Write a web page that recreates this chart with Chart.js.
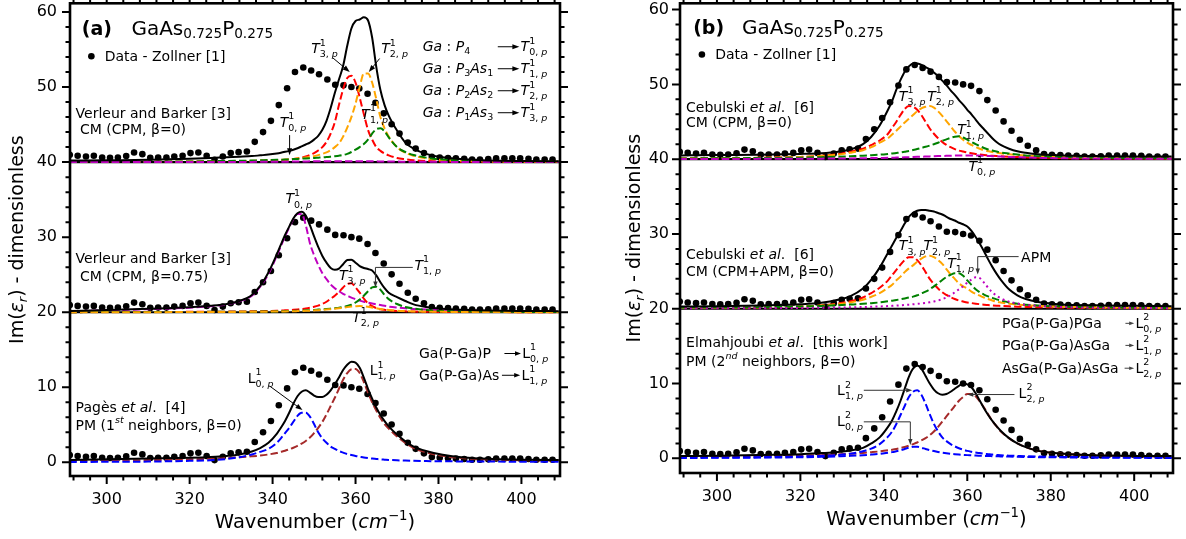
<!DOCTYPE html>
<html>
<head>
<meta charset="utf-8">
<title>GaAs0.725P0.275 - Im(eps) fits</title>
<script src="https://cdn.jsdelivr.net/npm/chart.js@4.4.1/dist/chart.umd.min.js"></script>
<style>
  html, body { margin: 0; padding: 0; background: #fff; }
  body { width: 1186px; height: 539px; position: relative; overflow: hidden; }
  canvas { position: absolute; top: 0; }
</style>
</head>
<body>
<canvas id="panelA"></canvas>
<canvas id="panelB"></canvas>
<script>
// Zollner data (relative to each baseline), drawn three times per panel
const DATA_X = [291.1, 293.0, 295.0, 296.9, 298.9, 300.8, 302.7, 304.7, 306.6, 308.6,
  310.5, 312.4, 314.4, 316.3, 318.3, 320.2, 322.1, 324.1, 326.0, 328.0,
  329.9, 331.8, 333.8, 335.7, 337.7, 339.6, 341.5, 343.5, 345.4, 347.4,
  349.3, 351.2, 353.2, 355.1, 357.1, 359.0, 360.9, 362.9, 364.8, 366.8,
  368.7, 370.6, 372.6, 374.5, 376.5, 378.4, 380.3, 382.3, 384.2, 386.2,
  388.1, 390.0, 392.0, 393.9, 395.9, 397.8, 399.7, 401.7, 403.6, 405.6, 407.5];
const DATA_Y = [0.97, 0.84, 0.75, 0.84, 0.62, 0.58, 0.62, 0.8, 1.28, 1.06,
  0.58, 0.62, 0.62, 0.75, 0.84, 1.2, 1.28, 0.84, 0.3, 0.75,
  1.2, 1.33, 1.41, 2.7, 4.0, 5.5, 7.6, 9.85, 12.0, 12.6,
  12.2, 11.7, 11.0, 10.3, 10.25, 10.0, 9.8, 9.1, 7.9, 6.5,
  5.05, 3.8, 2.6, 1.8, 1.2, 0.7, 0.6, 0.55, 0.5, 0.45,
  0.35, 0.35, 0.4, 0.5, 0.5, 0.5, 0.5, 0.45, 0.35, 0.35, 0.35];

// wavenumbers where the fitted curves were read
const FIT_X = [291, 300, 310, 320, 325, 329, 332, 335, 337, 339,
  341, 342, 343, 344, 345, 346, 347, 348, 349, 350,
  351, 352, 353, 354, 355, 356, 357, 358, 359, 360,
  361, 362, 363, 364, 365, 366, 367, 368,
  370, 372, 374, 377, 381, 386, 393, 401, 409];

// (a) top - Verleur & Barker, CM beta=0
const A1_CM = [0.2, 0.25, 0.3, 0.45, 0.55, 0.65, 0.72, 0.8, 0.9, 1.0,
  1.15, 1.25, 1.37, 1.5, 1.65, 1.85, 2.1, 2.35, 2.6, 3.0,
  3.5, 4.3, 5.5, 7.2, 9.2, 11.0, 12.8, 15.5, 17.8, 18.8,
  19.0, 19.3, 18.9, 16.6, 12.7, 9.6, 7.6, 6.2,
  4.2, 2.6, 1.8, 1.1, 0.65, 0.38, 0.22, 0.15, 0.1];
const A1_T0 = [0, 0, 0.01, 0.01, 0.02, 0.02, 0.03, 0.03, 0.04, 0.04,
  0.05, 0.05, 0.06, 0.06, 0.07, 0.08, 0.08, 0.09, 0.1, 0.1,
  0.1, 0.1, 0.1, 0.1, 0.1, 0.1, 0.1, 0.1, 0.1, 0.1,
  0.1, 0.1, 0.1, 0.1, 0.1, 0.09, 0.09, 0.08,
  0.07, 0.06, 0.05, 0.04, 0.03, 0.02, 0.01, 0.01, 0];
const A1_T1 = [0.03, 0.04, 0.06, 0.09, 0.12, 0.15, 0.18, 0.21, 0.24, 0.27,
  0.3, 0.32, 0.34, 0.37, 0.4, 0.43, 0.46, 0.49, 0.52, 0.55,
  0.59, 0.63, 0.68, 0.73, 0.79, 0.86, 0.95, 1.1, 1.35, 1.65,
  2.0, 2.4, 3.0, 3.8, 4.4, 4.5, 4.1, 3.3,
  2.0, 1.35, 0.95, 0.6, 0.35, 0.2, 0.12, 0.08, 0.05];
const A1_T2 = [0.02, 0.03, 0.04, 0.07, 0.09, 0.12, 0.14, 0.17, 0.2, 0.23,
  0.27, 0.3, 0.33, 0.36, 0.42, 0.5, 0.55, 0.62, 0.7, 0.8,
  0.93, 1.1, 1.3, 1.6, 2.0, 2.5, 3.4, 4.6, 6.0, 7.8,
  10.0, 11.8, 11.8, 10.6, 8.4, 6.0, 4.5, 3.4,
  2.0, 1.25, 0.85, 0.5, 0.28, 0.16, 0.09, 0.06, 0.04];
const A1_T3 = [0.02, 0.03, 0.04, 0.06, 0.08, 0.1, 0.12, 0.15, 0.18, 0.2,
  0.25, 0.28, 0.3, 0.35, 0.42, 0.5, 0.6, 0.75, 0.95, 1.2,
  1.55, 2.0, 2.7, 3.8, 5.3, 7.6, 9.7, 11.2, 11.5, 10.6,
  8.6, 6.4, 4.3, 3.0, 2.0, 1.5, 1.15, 0.9,
  0.55, 0.38, 0.25, 0.16, 0.1, 0.06, 0.04, 0.03, 0.02];

// (a) middle - Verleur & Barker, CM beta=0.75
const A2_CM = [0.15, 0.3, 0.45, 0.65, 0.85, 1.1, 1.5, 2.3, 3.5, 5.3,
  7.7, 9.0, 10.3, 11.4, 12.5, 13.2, 13.4, 12.9, 11.6, 10.1,
  8.7, 7.5, 6.6, 5.9, 5.65, 5.8, 6.4, 6.95, 7.0, 6.6,
  6.15, 5.9, 5.75, 5.55, 4.9, 4.0, 3.2, 2.6,
  2.0, 1.5, 1.05, 0.7, 0.45, 0.32, 0.22, 0.17, 0.14];
const A2_T0 = [0.12, 0.25, 0.4, 0.6, 0.8, 1.05, 1.45, 2.2, 3.4, 5.1,
  7.5, 8.8, 10.1, 11.3, 12.4, 13.1, 13.1, 11.6, 9.2, 7.6,
  6.3, 5.2, 4.4, 3.7, 3.2, 2.8, 2.45, 2.2, 1.95, 1.75,
  1.55, 1.4, 1.28, 1.15, 1.05, 0.95, 0.85, 0.75,
  0.62, 0.52, 0.44, 0.36, 0.28, 0.22, 0.16, 0.12, 0.1];
const A2_T1 = [0.01, 0.02, 0.03, 0.04, 0.05, 0.06, 0.07, 0.08, 0.09, 0.1,
  0.12, 0.13, 0.14, 0.16, 0.18, 0.2, 0.22, 0.25, 0.28, 0.31,
  0.35, 0.39, 0.43, 0.48, 0.54, 0.6, 0.7, 0.82, 1.0, 1.3,
  1.7, 2.2, 2.8, 3.3, 3.4, 3.0, 2.3, 1.75,
  1.1, 0.7, 0.5, 0.3, 0.18, 0.11, 0.07, 0.04, 0.03];
const A2_T2 = [0, 0.01, 0.01, 0.02, 0.03, 0.04, 0.05, 0.06, 0.07, 0.08,
  0.09, 0.1, 0.11, 0.12, 0.13, 0.15, 0.17, 0.19, 0.21, 0.24,
  0.27, 0.31, 0.35, 0.4, 0.45, 0.52, 0.6, 0.68, 0.75, 0.8,
  0.83, 0.8, 0.72, 0.62, 0.52, 0.43, 0.36, 0.3,
  0.21, 0.15, 0.11, 0.07, 0.05, 0.03, 0.02, 0.01, 0.01];
const A2_T3 = [0.01, 0.02, 0.03, 0.05, 0.06, 0.08, 0.1, 0.12, 0.14, 0.17,
  0.2, 0.22, 0.25, 0.28, 0.32, 0.37, 0.43, 0.5, 0.6, 0.72,
  0.88, 1.1, 1.4, 1.8, 2.2, 2.7, 3.3, 3.75, 3.85, 3.3,
  2.6, 1.8, 1.2, 0.8, 0.55, 0.4, 0.32, 0.25,
  0.17, 0.12, 0.09, 0.06, 0.04, 0.03, 0.02, 0.01, 0.01];

// (a) bottom - Pages et al., PM 1st neighbours
const A3_PM = [0.3, 0.4, 0.5, 0.6, 0.7, 0.85, 1.05, 1.45, 1.9, 2.6,
  3.8, 4.6, 5.5, 6.6, 7.8, 8.8, 9.4, 9.6, 9.3, 8.9,
  8.7, 8.7, 9.0, 9.6, 10.4, 11.3, 12.3, 13.0, 13.4, 13.3,
  12.6, 11.3, 9.8, 8.5, 7.3, 6.3, 5.5, 4.8,
  3.7, 2.8, 2.1, 1.5, 1.0, 0.65, 0.45, 0.35, 0.3];
const A3_L0 = [0.05, 0.07, 0.1, 0.2, 0.28, 0.45, 0.68, 1.05, 1.4, 1.8,
  2.6, 3.2, 3.9, 4.6, 5.4, 6.2, 6.6, 6.6, 6.1, 5.1,
  4.0, 3.2, 2.6, 2.1, 1.8, 1.5, 1.3, 1.1, 0.97, 0.85,
  0.75, 0.65, 0.57, 0.5, 0.45, 0.4, 0.36, 0.32,
  0.27, 0.23, 0.2, 0.17, 0.14, 0.12, 0.1, 0.08, 0.07];
const A3_L1 = [0.2, 0.25, 0.3, 0.4, 0.48, 0.58, 0.68, 0.8, 0.9, 1.05,
  1.25, 1.4, 1.55, 1.75, 1.95, 2.2, 2.5, 2.85, 3.3, 3.9,
  4.6, 5.4, 6.4, 7.5, 8.6, 9.8, 11.0, 11.9, 12.4, 12.45,
  11.9, 10.7, 9.3, 8.0, 6.9, 5.9, 5.1, 4.5,
  3.45, 2.6, 1.9, 1.35, 0.87, 0.55, 0.36, 0.27, 0.23];

// (b) top - Cebulski et al., CM beta=0
const B1_CM = [0.5, 0.55, 0.6, 0.7, 0.8, 1.0, 1.3, 2.0, 3.0, 4.5,
  6.6, 7.8, 9.3, 10.6, 11.7, 12.4, 12.8, 12.8, 12.6, 12.3,
  12.0, 11.6, 11.1, 10.5, 9.9, 9.2, 8.6, 7.9, 7.3, 6.6,
  6.0, 5.3, 4.6, 4.0, 3.4, 2.8, 2.3, 1.9,
  1.4, 1.05, 0.85, 0.65, 0.55, 0.45, 0.4, 0.37, 0.35];
const B1_T0 = [0.02, 0.03, 0.04, 0.05, 0.07, 0.09, 0.1, 0.12, 0.14, 0.16,
  0.18, 0.2, 0.21, 0.23, 0.25, 0.27, 0.29, 0.31, 0.33, 0.35,
  0.37, 0.39, 0.41, 0.43, 0.45, 0.47, 0.48, 0.49, 0.5, 0.5,
  0.5, 0.49, 0.47, 0.45, 0.43, 0.4, 0.38, 0.35,
  0.3, 0.26, 0.22, 0.18, 0.13, 0.1, 0.07, 0.05, 0.04];
const B1_T1 = [0.1, 0.12, 0.15, 0.2, 0.27, 0.33, 0.4, 0.47, 0.54, 0.6,
  0.7, 0.76, 0.83, 0.9, 1.0, 1.1, 1.22, 1.35, 1.5, 1.65,
  1.82, 2.0, 2.2, 2.45, 2.65, 2.85, 3.0, 3.05, 2.9, 2.6,
  2.3, 2.0, 1.75, 1.5, 1.3, 1.15, 1.02, 0.9,
  0.75, 0.62, 0.5, 0.4, 0.32, 0.24, 0.18, 0.13, 0.1];
const B1_T2 = [0.1, 0.13, 0.18, 0.3, 0.42, 0.6, 0.85, 1.2, 1.6, 2.2,
  2.8, 3.3, 3.8, 4.35, 4.9, 5.4, 5.9, 6.4, 6.8, 7.0,
  7.1, 6.9, 6.4, 5.8, 5.1, 4.4, 3.7, 3.1, 2.6, 2.2,
  1.9, 1.6, 1.4, 1.2, 1.07, 0.95, 0.86, 0.78,
  0.65, 0.55, 0.47, 0.38, 0.3, 0.23, 0.17, 0.13, 0.1];
const B1_T3 = [0.1, 0.13, 0.18, 0.3, 0.45, 0.7, 1.0, 1.4, 1.9, 2.5,
  3.4, 4.2, 5.0, 5.9, 6.7, 7.1, 7.0, 6.6, 5.9, 5.0,
  4.1, 3.4, 2.8, 2.3, 1.9, 1.6, 1.35, 1.15, 1.02, 0.9,
  0.8, 0.7, 0.62, 0.55, 0.5, 0.45, 0.41, 0.38,
  0.32, 0.28, 0.25, 0.21, 0.17, 0.13, 0.1, 0.08, 0.06];

// (b) middle - Cebulski et al., CM with APM
const B2_CM = [0.3, 0.35, 0.45, 0.6, 0.8, 1.2, 1.7, 2.7, 3.9, 5.5,
  7.5, 8.5, 9.5, 10.4, 11.4, 12.3, 12.8, 13.1, 13.2, 13.2,
  13.1, 13.0, 12.8, 12.6, 12.3, 12.0, 11.8, 11.5, 11.3, 11.0,
  10.4, 9.6, 8.7, 7.7, 6.6, 5.6, 4.7, 3.9,
  2.6, 1.8, 1.3, 0.9, 0.65, 0.5, 0.45, 0.4, 0.35];
const B2_T1 = [0.15, 0.17, 0.2, 0.3, 0.38, 0.47, 0.56, 0.66, 0.75, 0.85,
  1.0, 1.08, 1.17, 1.27, 1.38, 1.5, 1.62, 1.8, 2.05, 2.3,
  2.6, 3.0, 3.4, 3.85, 4.25, 4.55, 4.75, 4.75, 4.4, 3.8,
  3.2, 2.6, 2.2, 1.9, 1.65, 1.45, 1.25, 1.1,
  0.85, 0.68, 0.55, 0.42, 0.32, 0.24, 0.18, 0.13, 0.1];
const B2_T2 = [0.1, 0.13, 0.18, 0.3, 0.42, 0.6, 0.85, 1.2, 1.6, 2.1,
  2.8, 3.2, 3.8, 4.3, 4.9, 5.4, 5.8, 6.3, 6.7, 7.0,
  7.1, 6.9, 6.5, 6.0, 5.3, 4.6, 4.0, 3.4, 3.0, 2.7,
  2.3, 2.0, 1.75, 1.5, 1.3, 1.1, 0.95, 0.85,
  0.68, 0.56, 0.47, 0.38, 0.3, 0.23, 0.17, 0.13, 0.1];
const B2_T3 = [0.1, 0.13, 0.18, 0.3, 0.45, 0.7, 1.0, 1.5, 2.1, 2.8,
  3.8, 4.5, 5.2, 5.9, 6.5, 6.9, 6.9, 6.5, 5.8, 4.9,
  4.0, 3.3, 2.7, 2.2, 1.85, 1.55, 1.3, 1.1, 0.97, 0.85,
  0.76, 0.68, 0.61, 0.55, 0.5, 0.45, 0.41, 0.38,
  0.32, 0.28, 0.25, 0.21, 0.17, 0.13, 0.1, 0.08, 0.06];
const B2_APM = [0.05, 0.06, 0.08, 0.1, 0.13, 0.16, 0.19, 0.23, 0.27, 0.31,
  0.36, 0.39, 0.42, 0.46, 0.5, 0.55, 0.6, 0.65, 0.71, 0.78,
  0.87, 0.98, 1.1, 1.28, 1.5, 1.8, 2.2, 2.6, 3.0, 3.5,
  3.9, 4.2, 4.1, 3.5, 2.8, 2.2, 1.75, 1.4,
  0.95, 0.7, 0.52, 0.38, 0.27, 0.19, 0.13, 0.1, 0.08];

// (b) bottom - Elmahjoubi et al., PM 2nd neighbours
const B3_PM = [0.3, 0.35, 0.45, 0.55, 0.7, 0.85, 1.05, 1.4, 2.0, 2.8,
  4.2, 5.1, 6.3, 7.7, 9.3, 10.9, 12.0, 12.4, 12.0, 11.0,
  10.0, 9.2, 8.7, 8.5, 8.6, 8.9, 9.3, 9.7, 10.0, 9.9,
  9.5, 8.7, 7.7, 6.7, 5.8, 5.0, 4.3, 3.7,
  2.7, 2.0, 1.5, 1.0, 0.7, 0.5, 0.38, 0.32, 0.3];
const B3_L0 = [0.05, 0.07, 0.1, 0.15, 0.2, 0.27, 0.33, 0.42, 0.5, 0.6,
  0.75, 0.83, 0.95, 1.08, 1.25, 1.42, 1.55, 1.55, 1.42, 1.25,
  1.1, 0.97, 0.86, 0.77, 0.69, 0.62, 0.56, 0.51, 0.47, 0.43,
  0.4, 0.37, 0.35, 0.33, 0.31, 0.29, 0.27, 0.26,
  0.23, 0.21, 0.19, 0.16, 0.14, 0.11, 0.09, 0.07, 0.06];
const B3_L1 = [0.1, 0.12, 0.15, 0.25, 0.33, 0.45, 0.63, 0.95, 1.3, 1.9,
  2.9, 3.6, 4.6, 5.8, 7.0, 8.2, 8.9, 9.1, 8.5, 7.3,
  5.9, 4.6, 3.6, 2.8, 2.3, 1.9, 1.6, 1.35, 1.17, 1.0,
  0.88, 0.78, 0.7, 0.62, 0.56, 0.5, 0.46, 0.42,
  0.36, 0.32, 0.28, 0.24, 0.2, 0.17, 0.14, 0.12, 0.1];
const B3_L2 = [0.15, 0.18, 0.25, 0.35, 0.43, 0.52, 0.6, 0.72, 0.82, 0.93,
  1.07, 1.15, 1.25, 1.38, 1.52, 1.7, 1.9, 2.12, 2.4, 2.7,
  3.1, 3.6, 4.2, 4.9, 5.6, 6.3, 7.0, 7.7, 8.2, 8.6,
  8.6, 8.3, 7.6, 6.8, 5.9, 5.0, 4.3, 3.6,
  2.7, 2.0, 1.5, 1.0, 0.7, 0.5, 0.35, 0.28, 0.24];

const X_TICKS = [300, 320, 340, 360, 380, 400];
const Y_TICKS = [0, 10, 20, 30, 40, 50, 60];
const OFFSETS = [40, 20, 0];   // vertical shift of the three stacked fits
const X_MIN = 291.15, X_MAX = 409.3;

const FONT = '"DejaVu Sans"';
const COL = { t0: '#bf00bf', t1: '#008000', t2: '#ffa500', t3: '#ff0000', blue: '#0000ff', brown: '#a52a2a' };
const DASH = [7.4, 3.2], DOT = [2, 3.3];

function dots(off) {
  return {
    data: DATA_X.map((x, i) => ({ x, y: DATA_Y[i] + off })),
    showLine: false, pointRadius: 3.3, pointHoverRadius: 3.3,
    pointBackgroundColor: '#000', pointBorderWidth: 0, order: 3
  };
}

function curve(ys, off, color, dash) {
  return {
    data: FIT_X.map((x, i) => ({ x, y: ys[i] + off })),
    borderColor: color, borderWidth: 2, borderDash: dash || [],
    pointRadius: 0, pointHoverRadius: 0, fill: false,
    cubicInterpolationMode: 'monotone', order: dash ? 2 : 1
  };
}

const [o1, o2, o3] = OFFSETS;
const dsA = [
  dots(o1), dots(o2), dots(o3),
  curve(A1_T0, o1, COL.t0, DASH), curve(A1_T1, o1, COL.t1, DASH), curve(A1_T2, o1, COL.t2, DASH),
  curve(A1_T3, o1, COL.t3, DASH), curve(A1_CM, o1, '#000'),
  curve(A2_T2, o2, COL.t2, DASH), curve(A2_T1, o2, COL.t1, DASH), curve(A2_T3, o2, COL.t3, DASH),
  curve(A2_T0, o2, COL.t0, DASH), curve(A2_CM, o2, '#000'),
  curve(A3_L0, o3, COL.blue, DASH), curve(A3_L1, o3, COL.brown, DASH), curve(A3_PM, o3, '#000')
];
const dsB = [
  dots(o1), dots(o2), dots(o3),
  curve(B1_T0, o1, COL.t0, DASH), curve(B1_T1, o1, COL.t1, DASH), curve(B1_T2, o1, COL.t2, DASH),
  curve(B1_T3, o1, COL.t3, DASH), curve(B1_CM, o1, '#000'),
  curve(B2_APM, o2, COL.t0, DOT), curve(B2_T1, o2, COL.t1, DASH), curve(B2_T2, o2, COL.t2, DASH),
  curve(B2_T3, o2, COL.t3, DASH), curve(B2_CM, o2, '#000'),
  curve(B3_L0, o3, COL.blue, DASH), curve(B3_L1, o3, COL.blue, DASH), curve(B3_L2, o3, COL.brown, DASH),
  curve(B3_PM, o3, '#000')
];

// ---- rich text: tokens [text, flags, dy(em)]; flags i=italic b=bold s=small k=stack start e=stack end
function rich(ctx, x, y, toks, size, align) {
  const pass = (draw, x0) => {
    let cx = x0, st = 0, sw = 0;
    for (const [t, f = '', dy = 0] of toks) {
      const fs = f.includes('s') ? size * 0.68 : size;
      ctx.font = (f.includes('i') ? 'italic ' : '') + (f.includes('b') ? 'bold ' : '') + fs + 'px ' + FONT;
      const w = ctx.measureText(t).width;
      if (draw) ctx.fillText(t, cx, y + dy * size);
      if (f.includes('k')) { st = cx; sw = w; continue; }
      cx += w;
      if (f.includes('e')) cx = Math.max(cx, st + sw);
    }
    return cx - x0;
  };
  ctx.textBaseline = 'alphabetic';
  ctx.textAlign = 'left';
  const w = pass(false, x);
  pass(true, align === 'center' ? x - w / 2 : x);
}

function arrow(ctx, pts, head, color) {
  const [x1, y1] = pts[pts.length - 2], [x2, y2] = pts[pts.length - 1];
  const ang = Math.atan2(y2 - y1, x2 - x1), c = Math.cos(ang), s = Math.sin(ang);
  ctx.strokeStyle = color; ctx.fillStyle = color; ctx.lineWidth = 1;
  ctx.beginPath();
  ctx.moveTo(pts[0][0], pts[0][1]);
  for (let i = 1; i < pts.length - 1; i++) ctx.lineTo(pts[i][0], pts[i][1]);
  ctx.lineTo(x2 - c * head * 0.8, y2 - s * head * 0.8);
  ctx.stroke();
  ctx.beginPath();
  ctx.moveTo(x2, y2);
  ctx.lineTo(x2 - c * head - s * head * 0.36, y2 - s * head + c * head * 0.36);
  ctx.lineTo(x2 - c * head + s * head * 0.36, y2 - s * head - c * head * 0.36);
  ctx.closePath();
  ctx.fill();
  ctx.fillStyle = '#000'; ctx.strokeStyle = '#000';
}

const T = n => [['T', 'i'], ['1', 'sk', -0.55], [n + ', ', 's', 0.3], ['p', 'sie', 0.3]];
const L = (n, k) => [['L'], [k, 'sk', -0.55], [n + ', ', 's', 0.3], ['p', 'sie', 0.3]];
const GAASP = [['GaAs'], ['0.725', 's', 0.14], ['P'], ['0.275', 's', 0.14]];
const X_TITLE = [['Wavenumber ('], ['cm', 'i'], ['\u22121', 's', -0.42], [')']];
const Y_TITLE = [['Im('], ['\u03b5', 'i'], ['r', 'si', 0.22], [') - dimensionless']];
const GA = (a, b, c) => {
  const t = [['Ga', 'i'], [' : '], ['P', 'i'], [a, 's', 0.2]];
  if (c) t.push(['As', 'i'], [c, 's', 0.2]);
  return t;
};
const row = (tx, ty, left, a0, a1, right, head, color) => [
  ['t', tx, ty, left, 14],
  ['a', [[a0, ty + 0.6], [a1, ty + 0.6]], head, color],
  ['t', a1 + 0.3, ty, right, 14]
];

const NOTES_A = [
  ['t', 294.0, 56.9, [['(a)', 'b']], 19],
  ['t', 305.95, 56.9, GAASP, 20],
  ['d', 296.3, 54.1],
  ['t', 299.5, 53.45, [['Data - Zollner [1]']], 14],
  ['t', 292.5, 45.9, [['Verleur and Barker [3]']], 14],
  ['t', 292.5, 43.75, [[' CM (CPM, \u03b2=0)']], 14],
  ['t', 341.7, 44.7, T('0'), 14], ['a', [[344.1, 43.6], [344.1, 40.9]], 7, '#000'],
  ['t', 349.3, 54.5, T('3'), 14], ['a', [[354.5, 53.9], [358.6, 52.0]], 7, '#000'],
  ['t', 366.2, 54.5, T('2'), 14], ['a', [[365.8, 53.8], [363.2, 52.0]], 7, '#000'],
  ['t', 361.4, 45.8, T('1'), 14],
  ...row(376.2, 54.77, GA('4'), 394.3, 399.5, T('0'), 7, '#000'),
  ...row(376.2, 51.84, GA('3', 0, '1'), 394.3, 399.5, T('1'), 7, '#000'),
  ...row(376.2, 48.91, GA('2', 0, '2'), 394.3, 399.5, T('2'), 7, '#000'),
  ...row(376.2, 45.98, GA('1', 0, '3'), 394.3, 399.5, T('3'), 7, '#000'),

  ['t', 292.5, 26.5, [['Verleur and Barker [3]']], 14],
  ['t', 292.5, 24.2, [[' CM (CPM, \u03b2=0.75)']], 14],
  ['t', 343.1, 34.5, T('0'), 14],
  ['t', 356.0, 24.3, T('3'), 14],
  ['t', 374.2, 25.6, T('1'), 14], ['a', [[373.8, 25.97], [364.8, 25.97], [364.8, 23.3]], 6, '#333'],
  ['t', 359.2, 18.7, T('2'), 14],

  ['t', 292.5, 6.7, [['Pag\u00e8s '], ['et al', 'i'], ['.  [4]']], 14],
  ['t', 292.5, 4.34, [['PM (1'], ['st', 'si', -0.45], [' neighbors, \u03b2=0)']], 14],
  ['t', 334.0, 10.6, L('0', '1'), 14], ['a', [[339.3, 10.16], [347.2, 6.96]], 7, '#000'],
  ['t', 363.4, 11.6, L('1', '1'), 14],
  ...row(375.3, 13.9, [['Ga(P-Ga)P']], 395.9, 399.9, L('0', '1'), 6, '#000'),
  ...row(375.3, 11.0, [['Ga(P-Ga)As']], 395.3, 399.7, L('1', '1'), 6, '#000')
];

const NOTES_B = [
  ['t', 294.3, 56.7, [['(b)', 'b']], 19],
  ['t', 306.0, 56.7, GAASP, 20],
  ['d', 296.4, 54.0],
  ['t', 299.6, 53.4, [['Data - Zollner [1]']], 14],
  ['t', 292.6, 46.35, [['Cebulski '], ['et al', 'i'], ['.  [6]']], 14],
  ['t', 292.6, 44.25, [['CM (CPM, \u03b2=0)']], 14],
  ['t', 343.6, 47.8, T('3'), 14],
  ['t', 350.4, 47.8, T('2'), 14],
  ['t', 357.6, 43.3, T('1'), 14],
  ['t', 360.3, 38.4, T('0'), 14],

  ['t', 292.6, 26.6, [['Cebulski '], ['et al', 'i'], ['.  [6]']], 14],
  ['t', 292.6, 24.4, [['CM (CPM+APM, \u03b2=0)']], 14],
  ['t', 343.6, 27.8, T('3'), 14],
  ['t', 349.5, 27.8, T('2'), 14],
  ['t', 355.2, 25.5, T('1'), 14],
  ['t', 372.9, 26.3, [['APM']], 14], ['a', [[372.3, 26.97], [362.5, 26.97], [362.5, 24.57]], 6, '#333'],

  ['t', 292.6, 14.9, [['Elmahjoubi '], ['et al', 'i'], ['.  [this work]']], 14],
  ['t', 292.6, 12.4, [['PM (2'], ['nd', 'si', -0.45], [' neighbors, \u03b2=0)']], 14],
  ['t', 328.8, 8.44, L('1', '2'), 14], ['a', [[335.2, 9.1], [346.8, 9.1]], 6, '#333'],
  ['t', 328.8, 4.3, L('0', '2'), 14], ['a', [[335.2, 4.88], [346.35, 4.88], [346.35, 1.77]], 6, '#333'],
  ['t', 372.3, 8.1, L('2', '2'), 14], ['a', [[371.3, 8.53], [360.0, 8.53]], 6, '#333'],
  ...row(368.3, 17.45, [['PGa(P-Ga)PGa']], 397.9, 400.0, L('0', '2'), 5, '#444'),
  ...row(368.3, 14.5, [['PGa(P-Ga)AsGa']], 397.9, 400.0, L('1', '2'), 5, '#444'),
  ...row(368.3, 11.45, [['AsGa(P-Ga)AsGa']], 397.7, 400.0, L('2', '2'), 5, '#444')
];

function framePlugin(notes, titleGap) {
  return {
    id: 'frame',
    beforeDatasetsDraw(chart) {
      const { ctx, chartArea: a, scales: { y } } = chart;
      ctx.save();
      ctx.strokeStyle = '#000';
      ctx.lineWidth = 2.2;
      OFFSETS.filter(o => o > 0).forEach(o => {
        const py = y.getPixelForValue(o);
        ctx.beginPath(); ctx.moveTo(a.left, py); ctx.lineTo(a.right, py); ctx.stroke();
      });
      ctx.restore();
    },
    afterDraw(chart) {
      const { ctx, chartArea: a, scales: { x, y } } = chart;
      ctx.save();
      ctx.strokeStyle = '#000';
      ctx.lineWidth = 2;
      ctx.beginPath();
      for (let v = Math.ceil(X_MIN / 4) * 4; v <= X_MAX; v += 4) {
        const px = x.getPixelForValue(v), len = v % 20 ? 4.5 : 8;
        ctx.moveTo(px, a.bottom); ctx.lineTo(px, a.bottom + len);
        ctx.moveTo(px, a.top); ctx.lineTo(px, a.top - len);
      }
      for (let v = 0; v <= y.max; v += 2) {
        const py = y.getPixelForValue(v), len = v % 10 ? 4.5 : 8;
        ctx.moveTo(a.left, py); ctx.lineTo(a.left - len, py);
        ctx.moveTo(a.right, py); ctx.lineTo(a.right + len, py);
      }
      ctx.stroke();
      ctx.lineWidth = 2.6;
      ctx.strokeRect(a.left, a.top, a.right - a.left, a.bottom - a.top);

      ctx.fillStyle = '#000';
      rich(ctx, (a.left + a.right) / 2, a.bottom + 52, X_TITLE, 19.5, 'center');
      ctx.save();
      ctx.translate(a.left - titleGap, (a.top + a.bottom) / 2);
      ctx.rotate(-Math.PI / 2);
      rich(ctx, 0, 0, Y_TITLE, 19, 'center');
      ctx.restore();

      const P = (vx, vy) => [x.getPixelForValue(vx), y.getPixelForValue(vy)];
      for (const n of notes) {
        if (n[0] === 't') {
          const [px, py] = P(n[1], n[2]);
          rich(ctx, px, py, n[3], n[4]);
        } else if (n[0] === 'd') {
          const [px, py] = P(n[1], n[2]);
          ctx.beginPath(); ctx.arc(px, py, 3.3, 0, Math.PI * 2); ctx.fill();
        } else if (n[0] === 'a') {
          arrow(ctx, n[1].map(p => P(p[0], p[1])), n[2], n[3]);
        }
      }
      ctx.restore();
    }
  };
}

function makeChart(id, p, datasets, notes) {
  const cv = document.getElementById(id);
  cv.width = p.width;
  cv.height = 539;
  cv.style.left = p.left + 'px';
  const tickFont = { family: 'DejaVu Sans', size: 16 };
  return new Chart(cv, {
    type: 'line',
    data: { datasets },
    options: {
      responsive: false,
      animation: false,
      devicePixelRatio: 1,
      layout: { padding: { left: 0, top: p.top, right: p.width - p.right, bottom: 0 } },
      plugins: { legend: { display: false }, tooltip: { enabled: false } },
      scales: {
        x: {
          type: 'linear', min: X_MIN, max: X_MAX,
          afterBuildTicks: s => { s.ticks = X_TICKS.map(value => ({ value })); },
          ticks: { font: tickFont, color: '#000', padding: 14, maxRotation: 0, autoSkip: false },
          grid: { display: false, drawTicks: false },
          border: { display: false },
          afterFit: s => { s.height = 539 - p.bottom; s.paddingLeft = 0; s.paddingRight = 0; }
        },
        y: {
          type: 'linear', min: p.yMin, max: p.yMax,
          afterBuildTicks: s => { s.ticks = Y_TICKS.map(value => ({ value })); },
          ticks: { font: tickFont, color: '#000', padding: p.tickPad },
          grid: { display: false, drawTicks: false },
          border: { display: false },
          afterFit: s => { s.width = p.left0; s.paddingTop = 0; s.paddingBottom = 0; }
        }
      }
    },
    plugins: [framePlugin(notes, p.titleGap)]
  });
}

makeChart('panelA', { left: 0, width: 600, left0: 70, right: 560, top: 3, bottom: 476,
  yMin: -1.82, yMax: 61.16, tickPad: 13, titleGap: 47 }, dsA, NOTES_A);
makeChart('panelB', { left: 600, width: 586, left0: 80, right: 573, top: 2, bottom: 473,
  yMin: -1.96, yMax: 60.84, tickPad: 11, titleGap: 40 }, dsB, NOTES_B);
</script>
</body>
</html>
